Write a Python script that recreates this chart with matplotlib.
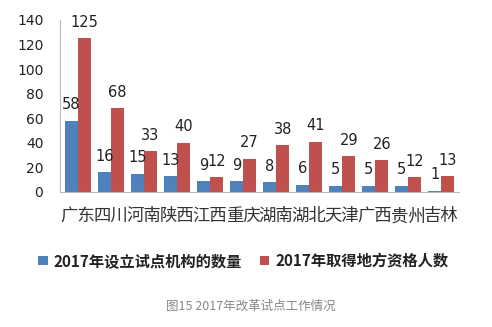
import numpy as np
import matplotlib
matplotlib.use('Agg')
import matplotlib.pyplot as plt

plt.rcParams['font.family'] = ['Noto Sans CJK SC', 'DejaVu Sans']

provinces = ['广东', '四川', '河南', '陕西', '江西', '重庆', '湖南', '湖北', '天津', '广西', '贵州', '吉林']
institutions = [58, 16, 15, 13, 9, 9, 8, 6, 5, 5, 5, 1]
qualified = [125, 68, 33, 40, 12, 27, 38, 41, 29, 26, 12, 13]
series_names = ['2017年设立试点机构的数量', '2017年取得地方资格人数']
caption = '图15 2017年改革试点工作情况'

blue = '#4F81BD'
red = '#C0504D'

fig = plt.figure(figsize=(4.92, 3.27), dpi=100)
ax = fig.add_axes([0.122, 0.413, 0.811, 0.526])

x = np.arange(len(provinces))
w = 0.4
b1 = ax.bar(x - w / 2, institutions, w, color=blue, label=series_names[0])
b2 = ax.bar(x + w / 2, qualified, w, color=red, label=series_names[1])

# data labels above each bar
for bars, vals in ((b1, institutions), (b2, qualified)):
	for bar, v in zip(bars, vals):
		ax.annotate(str(v), (bar.get_x() + bar.get_width() / 2, v),
			xytext=(0, 6), textcoords='offset points',
			ha='center', va='bottom', fontsize=10.5, color='#222222',
			family=['DejaVu Sans'])

ax.set_ylim(0, 140)
ax.set_xlim(-0.54, len(provinces) - 0.46)
ax.set_yticks(range(0, 141, 20))
ax.set_xticks(x)
ax.set_xticklabels(provinces, fontsize=12.5, color='#333333')
for t in ax.get_yticklabels():
	t.set_fontsize(10)
	t.set_color('#222222')
	t.set_family(['DejaVu Sans'])
ax.tick_params(axis='both', length=0)
ax.tick_params(axis='x', pad=11)
ax.tick_params(axis='y', pad=12)

for s in ['top', 'right']:
	ax.spines[s].set_visible(False)
ax.spines['left'].set_color('#bbbbbb')
ax.spines['bottom'].set_color('#bbbbbb')

leg = fig.legend(loc='center', bbox_to_anchor=(0.495, 1 - 261 / 327), ncol=2,
	frameon=False, handlelength=0.6, handleheight=0.6, handletextpad=0.4,
	columnspacing=1.2, prop={'size': 11, 'weight': 'bold'})
for t in leg.get_texts():
	t.set_color('#222222')

fig.text(0.51, 1 - 306 / 327, caption, ha='center', va='center', fontsize=9, color='#888888')

fig.savefig('out.png', dpi=100)
